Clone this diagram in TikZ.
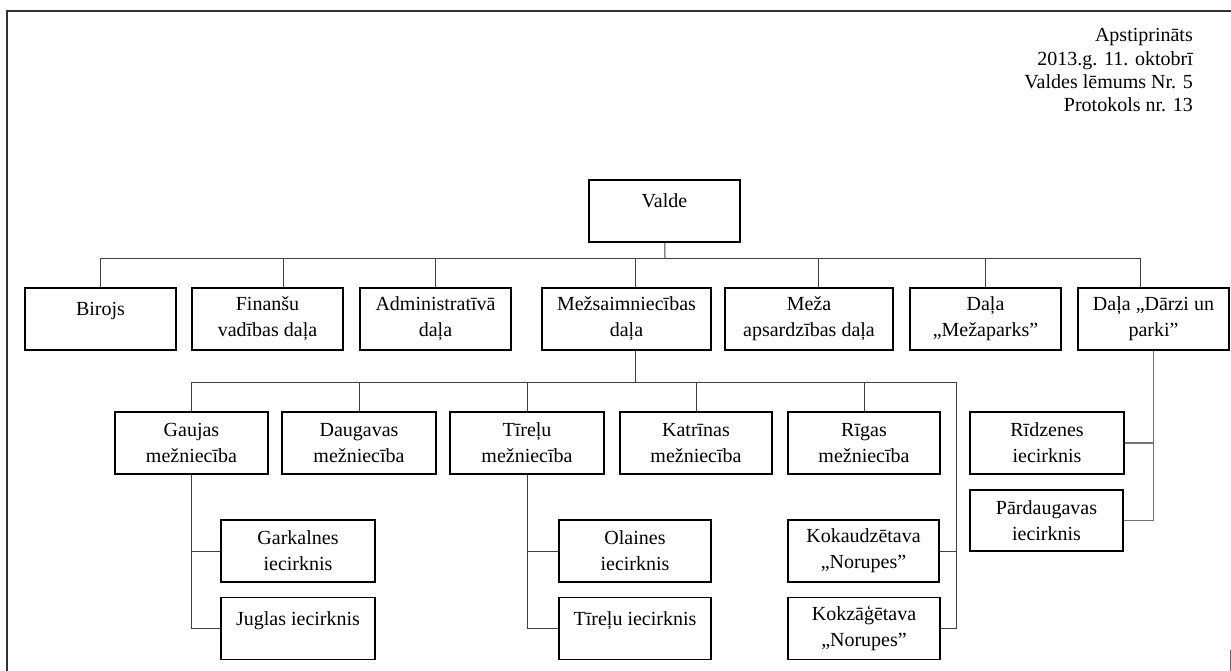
\documentclass[tikz,border=0pt]{standalone}
\usepackage{fontspec}
\setmainfont{Liberation Serif}

\begin{document}
\begin{tikzpicture}[x=1pt,y=-1pt,
  font=\fontsize{20}{26}\selectfont,
  box/.style={draw,line width=1.5pt,align=center,minimum width=151pt,minimum height=62pt,inner sep=0pt},
  oneline/.style={text height=10.5pt,text depth=17pt},
  conn/.style={draw=black!75,line width=1pt}]
\useasboundingbox (0,0) rectangle (1231,671);
\path[draw,line width=2pt,black!80] (7,671) -- (7,11) -- (1231,11);
\path[draw,black!60] (1230,650) -- (1230,671);

\node[anchor=north east,align=right,inner sep=0pt,font=\fontsize{20}{23.3}\selectfont] (approved) at (1193,28.5)
  {Apstiprināts\\2013.g. 11. oktobrī\\Valdes lēmums Nr. 5\\Protokols nr. 13};

\node[box,oneline] (valde) at (664.5,211) {Valde};

\node[box,oneline] (birojs) at (100.5,319) {Birojs};
\node[box] (finansu) at (267.5,319) {Finanšu\\vadības daļa};
\node[box] (admin) at (435.5,319) {Administratīvā\\daļa};
\node[box,minimum width=169pt] (mezsaimn) at (626.5,319) {Mežsaimniecības\\daļa};
\node[box,minimum width=168pt] (meza) at (809,319) {Meža\\apsardzības daļa};
\node[box] (mezaparks) at (985.5,319) {Daļa\\„Mežaparks”};
\node[box] (darzi) at (1153.5,319) {Daļa „Dārzi un\\parki”};

\node[box,minimum width=153pt] (gaujas) at (191.5,443) {Gaujas\\mežniecība};
\node[box,minimum width=154pt] (daugavas) at (359,443) {Daugavas\\mežniecība};
\node[box,minimum width=154pt] (tirelu) at (527,443) {Tīreļu\\mežniecība};
\node[box,minimum width=152pt] (katrinas) at (696,443) {Katrīnas\\mežniecība};
\node[box,minimum width=152pt] (rigas) at (864,443) {Rīgas\\mežniecība};
\node[box,minimum width=154pt] (ridzenes) at (1047,443) {Rīdzenes\\iecirknis};
\node[box,minimum width=153pt,minimum height=61pt] (pardaugavas) at (1046.5,520.5) {Pārdaugavas\\iecirknis};

\node[box,minimum width=154pt] (garkalnes) at (298,551) {Garkalnes\\iecirknis};
\node[box,minimum width=152pt] (olaines) at (635,551) {Olaines\\iecirknis};
\node[box] (kokaudz) at (863.5,551) {Kokaudzētava\\„Norupes”};

\node[box,oneline,minimum width=154pt] (juglas) at (298,628.5) {Juglas iecirknis};
\node[box,oneline,minimum width=152pt] (tireluiec) at (635,628.5) {Tīreļu iecirknis};
\node[box,minimum width=152pt] (kokzag) at (864,628.5) {Kokzāģētava\\„Norupes”};

\coordinate (bus1) at (665,258);
\coordinate (bus2) at (635,382);
\coordinate (bus2end) at (956,382);

\path[conn] (valde) -- (bus1);
\path[conn] (birojs.north) |- (bus1);
\path[conn] ([xshift=16pt]finansu.north) |- (bus1);
\path[conn] (admin.north) |- (bus1);
\path[conn] ([xshift=8.5pt]mezsaimn.north) |- (bus1);
\path[conn] ([xshift=9pt]meza.north) |- (bus1);
\path[conn] (mezaparks.north) |- (bus1);
\path[conn] ([xshift=-13.5pt]darzi.north) |- (bus1);

\path[conn] ([xshift=8.5pt]mezsaimn.south) -- (bus2);
\path[conn] (gaujas.north) |- (bus2);
\path[conn] (daugavas.north) |- (bus2);
\path[conn] (tirelu.north) |- (bus2);
\path[conn] (katrinas.north) |- (bus2);
\path[conn] (rigas.north) |- (bus2);
\path[conn] (bus2) -- (bus2end) |- (kokzag.east);
\path[conn] (bus2end) |- (kokaudz.east);

\path[conn] (gaujas.south) |- (garkalnes.west);
\path[conn] (gaujas.south) |- (juglas.west);
\path[conn] (tirelu.south) |- (olaines.west);
\path[conn] (tirelu.south) |- (tireluiec.west);
\path[conn,draw=black!55,line width=1.5pt] (darzi.south) |- (ridzenes.east);
\path[conn,draw=black!55,line width=1.5pt] (darzi.south) |- (pardaugavas.east);
\end{tikzpicture}
\end{document}
